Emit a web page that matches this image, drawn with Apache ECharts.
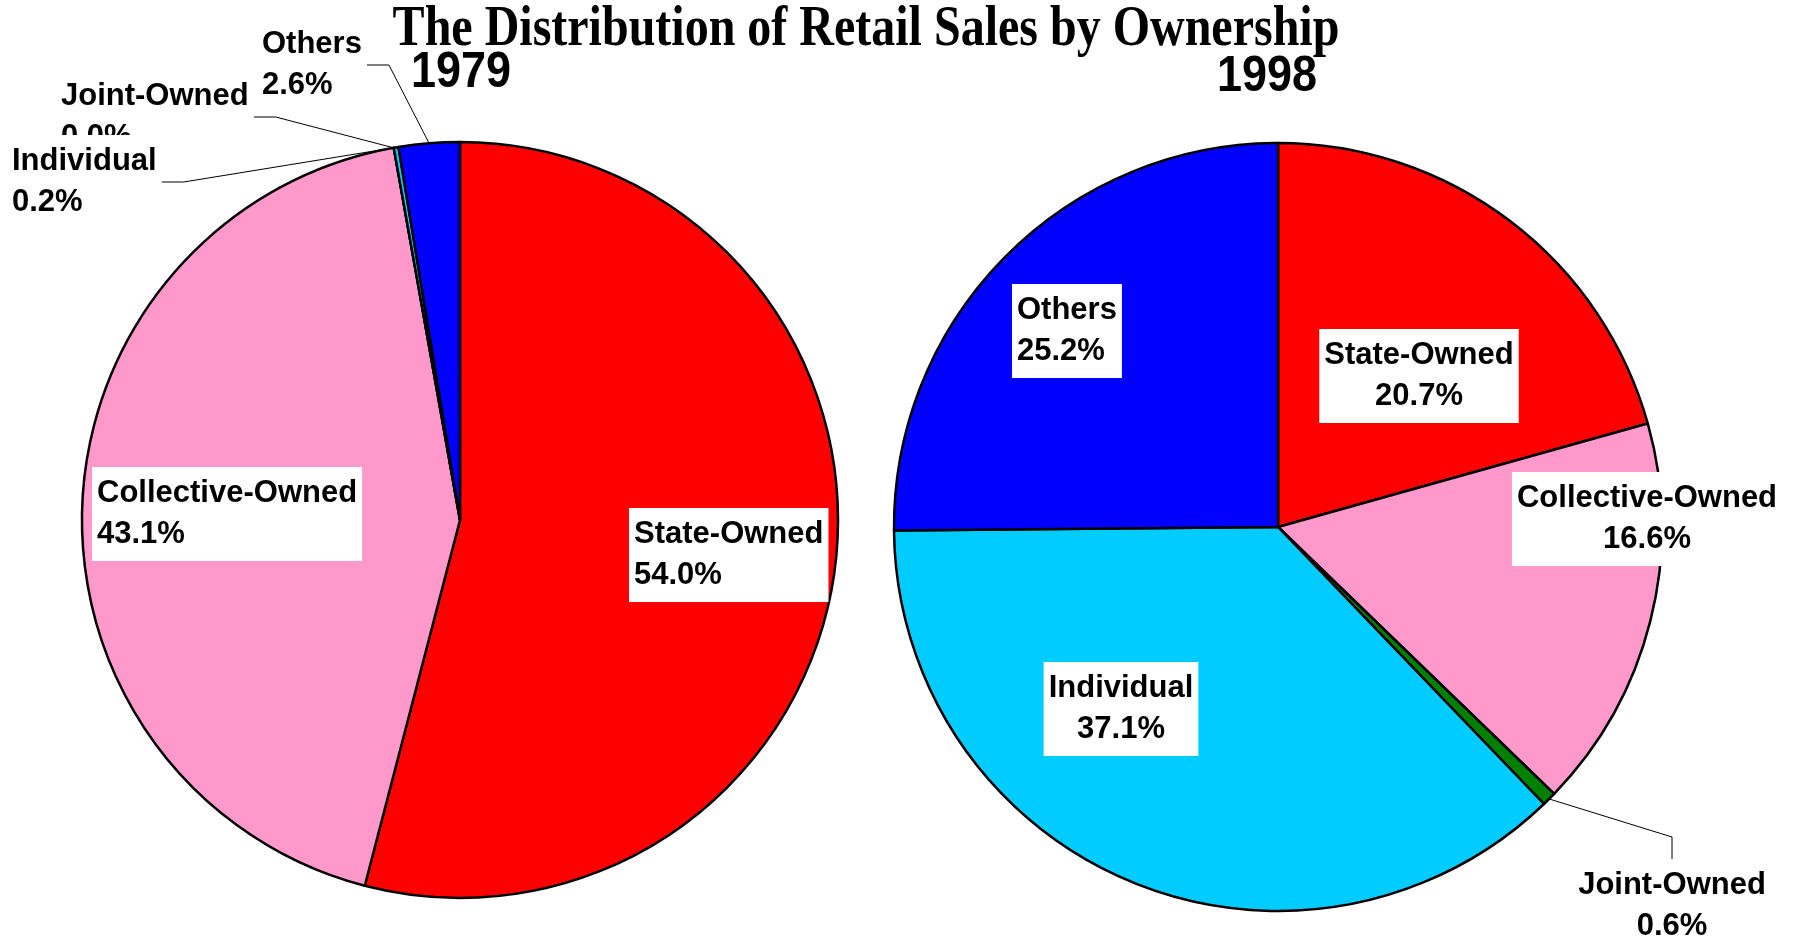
<!DOCTYPE html>
<html>
<head>
<meta charset="utf-8">
<title>Retail Sales by Ownership</title>
<script src="https://cdn.jsdelivr.net/npm/echarts@6/dist/echarts.min.js"></script>
<style>
    html, body { margin: 0; padding: 0; background: #fff; }
    #retail_pie { width: 1797px; height: 942px; }
</style>
</head>
<body>
<div id="retail_pie"></div>
<script>
var chartTitle = 'The Distribution of Retail Sales by Ownership';
var years = ['1979', '1998'];
var ownership = ['State-Owned', 'Collective-Owned', 'Joint-Owned', 'Individual', 'Others'];
var share1979 = [54.0, 43.1, 0.0, 0.2, 2.6];
var share1998 = [20.7, 16.6, 0.6, 37.1, 25.2];

var sliceColors = ['#ff0000', '#ff99cc', '#008000', '#00ccff', '#0000ff'];
var labelFont = '"Liberation Sans", Arial, sans-serif';

// label box placement: [x, y, align, side the leader line enters]
var labelBoxes1979 = [
    [629, 508, 'left'],
    [92, 467, 'left'],
    [56, 70, 'left', 'right'],
    [7, 135, 'left', 'right'],
    [257, 18, 'left', 'right']
];
var labelBoxes1998 = [
    [1419, 329, 'center'],
    [1647, 472, 'center'],
    [1672, 859, 'center', 'top'],
    [1121, 662, 'center'],
    [1012, 284, 'left']
];

function buildData(values, boxes) {
    var data = [];
    for (var i = 0; i < values.length; i++) {
        var outside = !!boxes[i][3];
        data.push({
            name: ownership[i],
            value: values[i],
            itemStyle: {color: sliceColors[i]},
            label: {position: outside ? 'outside' : 'inside'},
            labelLine: {show: outside}
        });
    }
    return data;
}

function placeLabel(boxes, p) {
    var b = boxes[p.dataIndex];
    var w = p.labelRect.width, h = p.labelRect.height;
    var res = {x: b[0], y: b[1], align: b[2], verticalAlign: 'top'};
    var left = b[2] === 'center' ? b[0] - w / 2 : b[0];
    if (b[3] && p.labelLinePoints) {
        var start = p.labelLinePoints[0], end, bend;
        if (b[3] === 'right') {
            end = [left + w, b[1] + h / 2];
            bend = [end[0] + 22, end[1]];
        } else {
            end = [b[0], b[1]];
            bend = [b[0], b[1] - 22];
        }
        res.labelLinePoints = [start, bend, end];
    }
    return res;
}

function pieSeries(values, boxes, center, radius) {
    return {
        type: 'pie',
        center: center,
        radius: radius,
        startAngle: 90,
        clockwise: true,
        avoidLabelOverlap: false,
        silent: true,
        itemStyle: {borderColor: '#000', borderWidth: 2.5},
        label: {
            show: true,
            formatter: function (p) {
                return p.name + '\n' + p.value.toFixed(1) + '%';
            },
            color: '#000',
            fontFamily: labelFont,
            fontWeight: 'bold',
            fontSize: 31,
            lineHeight: 41,
            backgroundColor: '#fff',
            padding: [6, 5],
            overflow: 'none'
        },
        labelLine: {lineStyle: {color: '#000', width: 1}},
        emphasis: {disabled: true},
        labelLayout: function (p) {
            return placeLabel(boxes, p);
        },
        data: buildData(values, boxes)
    };
}

var retail_pie = echarts.init(document.getElementById('retail_pie'));
var option = {
    animation: false,
    backgroundColor: '#fff',
    graphic: [{
        type: 'text', x: 866, y: 30, scaleY: 1.19,
        style: {
            text: chartTitle, fill: '#000', fontSize: 48, fontWeight: 'bold',
            fontFamily: '"Liberation Serif", "Times New Roman", serif',
            align: 'center', verticalAlign: 'middle'
        }
    }, {
        type: 'text', x: 461, y: 73, scaleY: 1.11,
        style: {
            text: years[0], fill: '#000', fontSize: 45, fontWeight: 'bold',
            fontFamily: labelFont, align: 'center', verticalAlign: 'middle'
        }
    }, {
        type: 'text', x: 1267, y: 77, scaleY: 1.11,
        style: {
            text: years[1], fill: '#000', fontSize: 45, fontWeight: 'bold',
            fontFamily: labelFont, align: 'center', verticalAlign: 'middle'
        }
    }],
    series: [
        pieSeries(share1979, labelBoxes1979, [460, 520], 378),
        pieSeries(share1998, labelBoxes1998, [1278, 527], 384)
    ]
};
retail_pie.setOption(option);
</script>
</body>
</html>
